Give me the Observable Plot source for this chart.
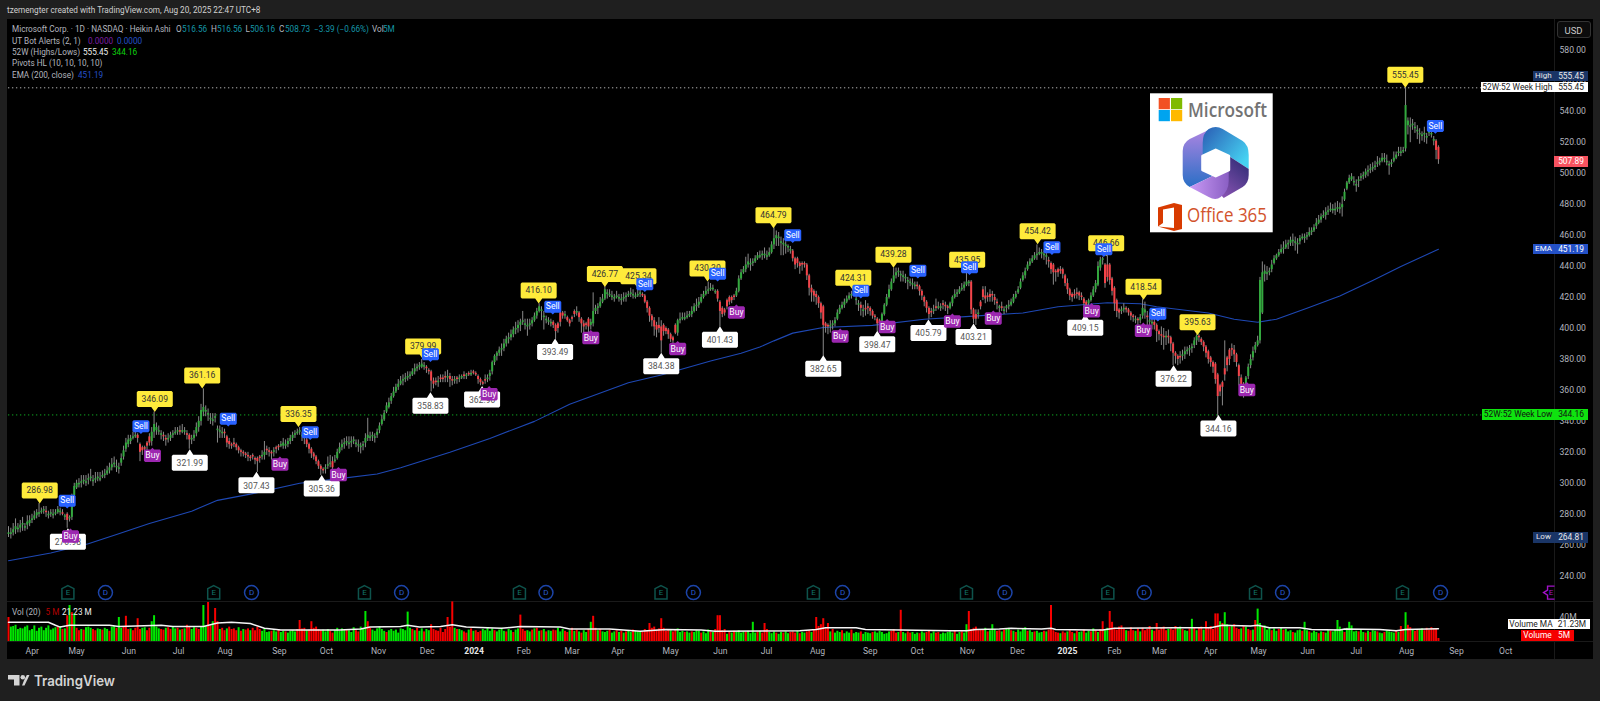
<!DOCTYPE html>
<html><head><meta charset="utf-8">
<script src="https://cdn.jsdelivr.net/npm/d3@7"></script>
<script src="https://cdn.jsdelivr.net/npm/@observablehq/plot@0.6"></script>
<style>
html,body{margin:0;padding:0;background:#1f1f1f;overflow:hidden}
#page{position:relative;width:1600px;height:701px;overflow:hidden;font-family:Roboto,sans-serif;color:#b2b5be;font-size:8.2px}
#panel{position:absolute;left:7px;top:19px;width:1586px;height:640px;background:#000}
#page>svg,#page>figure{position:absolute;left:0;top:0;margin:0}
.hl{position:absolute;background:#1a1a1a}
.lg{position:absolute;white-space:pre;line-height:11px;left:12px}
.lg span{position:absolute;top:0}
.tag{position:absolute;white-space:pre;text-align:center;line-height:11px;height:11px;font-size:8.4px}
</style></head><body>
<div id="page"><div id="panel"></div>
<div class="hl" style="left:7px;top:601px;width:1586px;height:1px"></div>
<div class="hl" style="left:7px;top:641px;width:1586px;height:1px"></div>
<div class="hl" style="left:1554px;top:19px;width:1px;height:640px"></div>
</div>
<script>
// ---- Candles: bar close, signed body (close-open), upper and lower wick lengths
const closes=[
268,268,270,272,271,273,274,272,275,276,
277,279,281,281,282,283,281,280,281,280,
281,283,282,280,279,276,278,292,298,300,
300,301,302,301,303,304,302,303,304,303,
305,306,308,310,312,313,311,310,316,321,
326,328,329,330,331,329,320,321,322,324,
326,333,338,336,334,332,330,328,329,331,
332,333,334,333,334,334,331,328,329,331,
336,340,347,349,347,345,342,341,343,335,
334,333,332,326,325,324,325,323,321,320,
319,318,317,316,317,315,314,316,318,320,
321,320,319,321,322,323,325,326,325,327,
329,331,332,333,334,331,329,325,322,319,
317,314,311,309,308,310,312,313,310,315,
320,323,325,326,327,326,327,328,326,325,
324,325,329,331,330,331,330,333,337,341,
345,350,352,356,359,362,364,366,367,368,
369,370,372,374,375,376,377,376,374,372,
366,364,365,366,367,367,368,369,367,366,
367,367,368,369,369,370,370,371,371,370,
367,365,364,366,368,371,378,382,384,386,
387,390,393,394,396,399,400,402,404,405,
403,402,403,405,408,411,414,412,408,406,
405,404,402,398,400,404,408,409,405,403,
406,409,411,407,403,401,402,401,404,411,
413,414,417,419,425,423,422,421,420,421,
420,419,420,421,422,423,422,421,422,423,
421,417,413,408,405,401,399,400,392,398,
398,396,393,392,397,405,406,407,407,408,
409,411,414,415,417,420,422,424,425,426,
426,424,419,411,409,410,414,417,418,420,
424,432,436,438,441,443,442,443,445,447,
447,448,448,447,449,454,458,460,459,456,
455,454,453,451,445,441,442,440,441,441,
434,426,423,421,420,416,410,402,401,401,
402,403,405,410,413,415,417,419,421,422,
423,419,416,413,412,412,413,411,408,407,
403,403,409,415,420,425,430,434,436,437,
435,434,433,431,430,429,428,427,424,421,
417,413,409,410,412,413,414,414,415,414,
413,416,420,422,423,425,426,428,430,430,
412,406,406,410,414,420,419,420,420,421,
418,416,414,413,412,414,415,417,420,422,
425,430,434,437,441,443,445,447,448,449,
449,448,447,443,438,436,436,436,437,435,
429,425,421,420,421,422,421,420,416,415,
418,421,425,429,440,444,445,429,433,431,
424,416,411,410,412,413,412,410,408,407,
406,405,407,413,412,407,405,404,402,398,
396,395,394,395,394,390,384,382,380,381,
383,385,386,387,388,392,395,394,391,388,
384,380,378,375,367,356,359,362,370,376,
380,386,383,378,369,363,361,368,375,380,
385,389,392,431,436,437,436,437,441,445,
447,449,451,452,454,455,457,457,456,455,
458,459,459,460,462,463,465,468,470,472,
473,475,476,477,477,477,478,478,480,488,
494,497,498,495,493,496,498,499,501,502,
503,504,505,507,508,510,510,508,506,507,
510,512,514,514,515,544,534,531,532,530,
528,526,525,526,524,527,526,522,515,509];
const bodies=[
1,1,2,2,1,2,1,1,2,2,
1,2,2,1,1,1,-1,1,1,1,
1,2,1,-1,1,-4,1,14,6,3,
1,1,1,1,1,1,1,1,1,1,
1,1,2,2,2,1,1,1,3,4,
4,3,2,1,1,-2,-5,-2,-1,-2,
-4,6,5,2,1,1,-1,-1,1,2,
1,1,1,-1,1,1,-1,-3,1,2,
4,4,7,3,1,1,1,1,1,1,
1,1,-1,-4,-2,-1,-1,-2,-2,-1,
-1,-1,-1,-1,-1,-1,-2,-1,1,2,
-1,-1,-1,1,-1,-1,1,2,1,2,
2,2,1,1,1,1,-1,-3,-3,-3,
-2,-3,-3,-2,-1,1,1,1,-4,1,
4,3,2,1,1,1,1,1,1,1,
1,1,3,2,1,1,1,2,3,3,
4,4,3,3,3,3,2,2,1,1,
1,1,2,2,1,1,2,1,-1,-1,
-6,-2,-1,1,-1,-1,-1,1,-2,-1,
1,-1,1,1,-1,1,-1,1,-1,-1,
-2,-2,-1,-1,1,2,6,4,2,2,
1,3,3,1,2,3,1,2,2,1,
1,1,1,2,3,3,3,1,1,1,
1,1,-2,-4,-3,-6,-2,1,-2,-2,
-1,-2,1,-3,-3,-2,-1,-5,2,8,
2,1,3,2,6,1,1,1,1,1,
1,1,1,1,1,1,1,1,1,1,
-1,-4,-4,-5,-3,-4,-3,-2,-9,-4,
-2,-3,-3,-2,-5,8,1,1,1,1,
1,2,3,1,2,3,2,2,1,1,
1,1,-5,-6,-4,-2,-4,-3,-2,-1,
3,8,4,2,3,2,1,1,2,2,
1,1,1,1,2,5,4,2,1,1,
1,1,1,1,-5,-4,-3,-2,-1,-1,
-7,-8,-3,-3,-2,-4,-6,-12,-2,-1,
1,1,2,4,3,2,2,2,2,1,
1,1,1,-2,1,-1,-1,-2,-3,-1,
-3,-2,5,6,5,5,5,4,2,1,
1,1,1,1,1,1,1,-1,-3,-3,
-3,-4,-4,-1,1,-1,1,1,-1,-1,
-1,3,4,2,1,2,1,2,2,1,
-18,-6,-3,1,-3,-5,-2,-1,-2,-1,
-2,-1,1,-1,1,1,1,2,3,2,
2,4,3,3,3,2,2,2,1,1,
1,1,1,-1,-4,-5,-1,-2,-1,-3,
-5,-4,-4,-2,-1,-1,-2,-1,-3,-2,
2,3,4,4,12,5,1,-12,-8,-10,
-8,-10,-7,-2,1,1,-1,-2,-2,-1,
1,-1,2,5,2,-1,1,1,-2,-4,
-2,-1,-1,1,-1,-4,-6,-2,-2,-1,
1,2,1,1,1,3,3,-1,-2,-3,
-4,-5,-3,-3,-10,-14,-4,-3,-4,-5,
-6,-1,-3,-5,-7,-5,-3,6,6,4,
4,3,3,39,26,2,1,1,3,3,
2,2,2,1,2,1,2,1,1,1,
2,1,1,1,2,1,2,2,2,2,
1,2,1,1,1,1,1,1,2,5,
4,3,2,1,1,1,1,1,2,1,
1,1,1,1,1,2,1,1,1,1,
2,2,1,1,1,28,3,1,1,1,
1,1,1,1,1,1,1,1,-6,-8];
const wickUp=[
4,3,4,5,3,3,4,2,4,3,
3,3,2,6,2,2,3,2,2,3,
2,2,2,2,1,1,1,1,2,2,
3,4,3,4,3,5,3,4,3,4,
3,3,3,3,4,4,4,3,3,3,
3,3,2,3,2,1,1,1,1,1,
2,3,8,3,3,2,2,2,3,2,
2,3,2,3,4,2,2,1,2,3,
3,3,4,12,3,3,3,4,2,2,
3,3,2,1,2,1,3,1,1,1,
1,1,2,1,1,1,1,1,3,7,
2,2,1,2,1,1,2,3,3,2,
2,2,2,2,2,2,1,1,1,1,
1,1,1,1,1,2,5,5,3,3,
2,3,3,3,3,4,3,2,2,3,
2,2,3,11,3,2,2,2,2,3,
2,2,3,2,3,2,3,3,3,3,
3,2,2,3,2,2,3,2,1,1,
1,2,2,3,2,2,3,4,2,2,
2,1,2,1,2,1,1,2,1,1,
1,1,1,3,2,2,1,1,1,2,
3,3,2,3,3,2,4,3,2,6,
3,4,3,2,2,2,2,2,3,2,
2,2,1,1,1,1,1,2,1,1,
1,1,3,1,1,2,1,1,2,12,
2,2,3,3,2,2,3,3,2,3,
2,3,3,2,2,3,3,2,3,2,
1,1,1,1,1,2,2,5,4,1,
1,1,1,1,1,1,4,3,3,3,
2,3,2,4,3,2,2,3,5,3,
2,1,1,1,1,1,1,1,1,1,
2,2,2,2,5,5,3,2,2,2,
3,2,4,3,3,2,7,3,3,3,
3,2,1,2,1,1,1,1,1,1,
1,1,2,1,2,1,1,1,1,1,
3,2,2,2,2,2,2,2,2,2,
1,2,2,2,3,5,2,1,1,1,
1,1,1,1,2,3,2,5,3,2,
2,3,2,2,2,3,2,2,1,1,
1,1,1,2,3,5,3,2,2,2,
1,1,1,3,2,2,3,2,6,1,
1,1,3,2,1,2,6,2,3,2,
2,2,1,3,2,1,3,2,2,2,
2,2,2,2,2,2,2,2,6,3,
2,2,3,2,1,1,1,1,2,1,
1,3,1,1,3,3,1,2,1,1,
1,2,2,2,3,2,1,1,6,1,
1,1,1,1,2,3,1,1,1,1,
2,1,2,6,5,3,5,3,2,1,
1,5,5,3,4,1,1,1,1,3,
3,3,2,2,2,2,1,1,1,1,
1,1,1,1,1,1,1,1,18,1,
1,3,3,1,1,2,1,1,2,3,
3,2,3,2,7,4,4,2,3,2,
1,2,3,4,3,2,2,4,3,3,
2,2,2,2,3,2,2,3,3,2,
3,3,3,4,3,4,4,3,5,2,
1,2,2,3,3,2,2,2,2,3,
3,3,3,4,2,3,3,4,2,2,
4,2,3,3,2,11.45,2,5,3,3,
3,3,2,4,2,4,3,2,1,1];
const wickDown=[
2,3,2,3,2,3,4,2,3,2,
2,1,2,2,1,2,3,2,2,2,
1,1,2,1,2,5,2,2,2,1,
2,3,2,2,3,2,3,2,2,1,
1,2,1,2,2,2,3,3,2,2,
2,2,2,1,1,3,6,3,3,3,
2,3,4,3,2,3,3,4,2,2,
2,1,2,2,1,2,3,6,3,2,
2,3,3,3,3,4,3,3,3,8,
4,3,3,3,3,2,2,2,2,3,
2,2,3,2,2,3,7,3,2,3,
3,3,4,3,3,2,1,2,2,2,
2,2,2,1,2,3,4,2,3,3,
2,2,2,4,2,3,2,2,1,1,
1,1,2,3,2,3,3,2,2,4,
4,3,3,2,2,3,3,2,2,1,
1,1,1,2,1,1,2,1,3,2,
2,2,1,2,2,2,1,2,3,2,
7,3,2,3,2,2,3,3,5,3,
2,3,2,1,2,2,1,1,1,1,
3,2,1,2,2,3,2,2,3,2,
4,2,2,3,2,2,3,3,4,2,
3,6,3,2,1,2,1,6,8,2,
2,2,2,5,3,3,2,2,1,2,
2,2,2,3,6,4,3,5,3,2,
2,4,1,1,1,3,1,2,2,1,
2,3,2,3,1,2,2,1,1,2,
1,1,3,4,4,6,5,3,8,3,
2,3,2,3,1,2,2,1,1,1,
1,2,1,3,2,1,1,1,2,1,
1,1,2,10,2,2,2,2,2,2,
1,1,1,1,2,2,4,2,1,1,
1,3,2,2,1,1,3,5,5,8,
7,5,3,2,2,3,3,5,4,2,
3,5,6,4,5,3,4,20,4,5,
4,3,2,1,1,1,2,1,1,2,
1,3,4,5,4,4,4,3,2,2,
5,3,1,1,1,1,1,1,2,3,
4,3,3,5,2,3,2,2,3,3,
3,3,3,3,2,2,1,2,3,3,
4,1,2,1,2,1,1,2,1,2,
3,3,4,3,2,2,3,3,3,4,
3,4,3,2,2,3,2,1,1,1,
1,1,1,2,1,1,1,1,3,1,
3,3,5,4,3,8,6,3,2,3,
2,3,3,3,2,3,3,2,7,3,
2,1,1,2,1,2,3,3,3,3,
3,5,4,4,2,2,2,2,3,3,
2,3,2,2,4,9,6,4,3,7,
4,6,8,5,4,5,8,5,4,4,
3,3,2,4,3,2,3,3,2,3,
3,3,3,4,3,13,3,12,4,4,
4,4,5,3,6,5,6,3,2,2,
2,2,1,2,1,5,4,2,2,1,
1,1,1,3,1,3,2,3,5,6,
2,1,3,2,1,2,1,2,1,2,
1,3,2,1,2,3,2,3,6,1,
1,1,1,2,4,4,2,2,2,3,
2,2,2,2,2,1,2,2,6,2,
1,1,2,2,1,2,6,10,3,3,
5,6,3,5,4,2,2,3,6,3];
// ---- Volume in millions; a negative sign marks a red bar
const volumes=[
-40,24,25,27,20,22,21,24,26,18,
20,26,17,22,24,18,22,26,19,21,
23,-24,25,-20,21,-43,60,-48,46,-22,
-18,20,-19,23,24,22,-20,-18,21,20,
-19,22,20,-17,24,25,-22,40,22,-24,
-42,-20,21,-18,-22,-38,-20,22,23,-18,
-22,33,43,24,21,-20,-19,22,-23,-20,
24,21,-22,19,-20,21,-27,-24,20,23,
-22,-20,24,60,25,-65,-26,33,-55,-33,
20,-22,-18,21,-24,-20,-21,-18,23,-17,
20,-19,-21,18,-22,-18,-24,-20,17,21,
15,16,-17,18,16,-19,15,17,-16,14,
17,18,16,-20,-35,-21,-22,18,-19,-33,
-22,-24,-20,-18,19,16,20,-17,-14,18,
22,17,21,19,-20,18,15,23,-18,-16,
24,20,50,-33,-22,19,17,21,24,20,
17,-15,18,20,17,19,14,21,20,18,
49,22,-20,18,-22,17,21,-16,20,18,
-28,-20,-18,-17,-22,-15,-20,-40,-24,-66,
22,-20,20,18,-16,-14,19,-21,17,-18,
-15,-17,20,18,23,17,21,-18,16,19,
22,17,-16,20,18,-15,19,21,-44,-20,
-17,18,16,-19,21,-22,17,-18,20,-16,
18,17,-19,-18,22,16,20,-17,-15,18,
-22,17,-19,16,-14,18,15,-20,32,-42,
-22,18,-20,16,15,17,-19,14,16,-18,
15,-17,14,-16,18,15,-19,17,16,15,
-16,-20,-18,-30,-22,-24,-19,-21,-38,-22,
-17,-19,18,-16,-20,21,15,17,-15,16,
14,-16,15,18,17,-14,16,13,19,-16,
15,-20,-43,-43,-18,-20,12,-16,14,-17,
15,18,14,16,-15,17,13,32,14,-16,
17,-14,-30,-20,15,13,16,-14,12,15,
-14,16,13,-15,-16,-14,17,-13,15,14,
-16,-18,15,-20,-40,-25,-28,-38,-22,-30,
16,-20,14,17,15,-18,13,16,14,-19,
13,15,14,-16,12,15,14,13,-15,16,
14,17,15,12,13,16,-17,-20,-14,15,
-52,15,13,-16,-14,15,12,14,-13,16,
14,-15,-17,13,16,-14,-15,12,14,13,
15,16,14,-17,12,15,-16,14,28,-50,
-20,-22,-24,-18,-20,-19,22,-16,18,28,
20,-17,-18,16,-19,21,22,-18,17,-15,
19,16,20,23,-17,18,15,-16,17,14,
15,-17,16,-19,-60,-18,-15,-14,13,-16,
-14,16,-18,-15,13,-17,15,16,-19,14,
17,-16,21,-18,15,-20,-33,18,22,-50,
-32,-22,-19,-24,-26,-20,18,-17,-23,-18,
17,-21,16,-22,-18,-20,-25,19,-17,-30,
-19,-22,-24,-18,20,-21,-19,-25,22,24,
-20,18,17,-21,37,-22,18,-23,-24,19,
-33,-22,-25,-20,-46,-46,33,-30,48,28,
-24,26,-28,-22,-20,21,-25,24,-20,-18,
19,-35,54,30,-24,26,19,22,-18,21,
17,-20,22,-19,20,16,18,-15,14,18,
19,-17,32,18,-16,14,17,15,-13,16,
-15,14,18,-17,16,19,35,24,20,-15,
22,32,26,16,17,-16,19,15,-14,17,
-15,18,17,-16,14,13,-15,18,16,15,
14,-17,15,-25,-20,48,-27,-23,19,-17,
-20,20,21,-18,-22,-19,-23,-21,-20,-5];
// ---- Lines read at sampled bars
const emaBars=[0,18,34,46,60,78,89,103,124,141,157,167,188,205,224,239,264,278,299,312,320,326,334,347,368,390,411,432,447,468,482,489,511,522,532,540,553,567,581,593,609];
const emaValues=[250,255,261,267,274,282,289,293,300,303,306,310,320,329,340,351,365,370,379,384,388,392,397,400.6,402,406,408,410,414,416.6,416,414,410,406,404,406,413,421,431,440,451.19];
const volMaBars=[0,17,20,22,26,43,47,65,70,83,89,95,103,109,116,141,150,154,167,170,175,184,189,195,210,218,235,239,256,269,280,295,301,337,344,348,361,365,380,401,408,412,422,427,440,444,446,461,466,471,497,512,517,529,532,537,550,555,567,569,584,591,595,609];
const volMaValues=[32,32,27,24,27,27,25,27,25,25,31,32,30,22,19,19,21,24,25,27,24,25,28,24,22,25,24,21,21,17,20,19,17,18,20,23,23,20,19,18,18,20,21,22,21,22,20,19,19,22,23,23,27,26,27,23,23,20,19,21,20,18,20,21.23];
// ---- Pivot and signal tags (bar, price, text)
const pivotHighBars=[13.3,62.3,82.5,123.5,176.6,225.8,254,268.3,297.7,325.8,359.8,376.9,408.3,438.3,467.5,483.4,506.4,594.9];
const pivotHighs=[286.98,346.09,361.16,336.35,379.99,416.10,426.77,425.34,430.30,464.79,424.31,439.28,435.95,454.42,446.66,418.54,395.63,555.45];
const pivotLowBars=[25.3,77.2,105.6,133.4,179.7,201.7,232.8,278,303,347,370,391.8,411,458.6,496.2,515.3];
const pivotLows=[270.98,321.99,307.43,305.36,358.83,362.90,393.49,384.38,401.43,382.65,398.47,405.79,403.21,409.15,376.22,344.16];
const sellBars=[25,56.4,93.6,128.5,179.7,231.8,271,302,334,363,387.3,409.3,444.4,466.5,489.5,607.7];
const sellPrices=[283.7,331.8,336.7,328,378.3,409,423.5,430.3,455.2,419.3,432.3,434.5,447.4,446.1,404.5,525.7];
const buyBars=[26.4,61.3,115.6,140.5,204.7,248,285,310,354.2,374.2,402,419.4,461.3,483.3,527.4];
const buyPrices=[270.8,323,317.3,310.5,362.8,399,391.9,415.5,400,406.1,409.7,411.6,416.4,403.8,365.4];
const earningsBars=[25.3,87.4,151.6,217.6,277.9,342.8,408,468.2,531.1,593.7];
const dividendBars=[41.3,103.5,167.4,228.9,291.7,355.2,424.4,483.7,542.6,609.9];
const monthBars=[10.1,29,51.3,72.4,92.2,115.4,135.4,157.6,178.3,219.5,240,259.5,282,303.2,322.8,344.6,367,387,408.4,429.7,471,490.2,512,532.4,553.3,574,595.4,616.7,637.6];
const monthNames=["Apr","May","Jun","Jul","Aug","Sep","Oct","Nov","Dec","Feb","Mar","Apr","May","Jun","Jul","Aug","Sep","Oct","Nov","Dec","Feb","Mar","Apr","May","Jun","Jul","Aug","Sep","Oct"];
const yearBars=[198.3,451];
const yearNames=["2024","2025"];
const priceTicks=d3.range(240,581,20);

const FONT='Roboto,sans-serif';
const barPx=2.348, firstPx=8, chartRight=1554;
const xDomain=[-firstPx/barPx,(chartRight-firstPx)/barPx];
const xOpt={domain:xDomain,range:[0,chartRight]};
const page=document.getElementById("page");

const bars=closes.map((c,i)=>{const o=c-bodies[i];return{i,o,c,h:Math.max(o,c)+wickUp[i],l:Math.min(o,c)-wickDown[i]}});
const ema=emaBars.map((b,i)=>({b,v:emaValues[i]}));
const volMa=volMaBars.map((b,i)=>({b,v:volMaValues[i]}));
const zip=(a,b)=>a.map((x,i)=>({x,y:b[i]}));
const fmt=d=>d.toFixed(2);
const highs=zip(pivotHighBars,pivotHighs), lows=zip(pivotLowBars,pivotLows);
const sells=zip(sellBars,sellPrices), buys=zip(buyBars,buyPrices);

// tag outline: tip at origin, box above (dir -1) or below (dir +1)
const tag=(w,h,gap,dir,tipW)=>({draw(c){
  const r=1.2, a=dir*gap, b=dir*(gap+h), L=-w/2, R=w/2;
  c.moveTo(0,0);c.lineTo(tipW,a);c.lineTo(R-r,a);c.lineTo(R,a+dir*r);c.lineTo(R,b-dir*r);c.lineTo(R-r,b);
  c.lineTo(L+r,b);c.lineTo(L,b-dir*r);c.lineTo(L,a+dir*r);c.lineTo(L+r,a);c.lineTo(-tipW,a);c.closePath();
}});
const hexE={draw(c){c.moveTo(0,-7);c.lineTo(6,-4);c.lineTo(6,6.5);c.lineTo(-6,6.5);c.lineTo(-6,-4);c.closePath();}};
const nextE={draw(c){c.moveTo(6,-6.5);c.lineTo(-1,-6.5);c.lineTo(-1,-2.5);c.lineTo(-5,0);c.lineTo(-1,2.5);c.lineTo(-1,6.5);c.lineTo(6,6.5);}};
const eventY=229.4;

const price=Plot.plot({
  width:1600,height:701,marginLeft:0,marginRight:46,marginTop:49.3,marginBottom:125.3,
  style:{background:"transparent",fontFamily:FONT},
  x:{...xOpt,axis:null},
  y:{domain:[240,580],label:null},
  marks:[
    Plot.axisY(priceTicks,{anchor:"right",tickSize:0,tickPadding:5,tickFormat:fmt,fill:"#b2b5be",fontSize:8.6,label:null}),
    Plot.ruleY([555.45],{x1:xDomain[0]+3.4,x2:627.5,stroke:"#b0b0b0",strokeDasharray:"1.3,2.7"}),
    Plot.ruleY([344.16],{x1:xDomain[0]+3.4,x2:627.5,stroke:"#10a822",strokeDasharray:"1.3,2.7"}),
    Plot.line(ema,{x:"b",y:"v",stroke:"#1e48b4",strokeWidth:1.1}),
    Plot.ruleX(bars,{x:"i",y1:"l",y2:"h",stroke:"#8a8a8a",strokeWidth:1}),
    Plot.ruleX(bars,{x:"i",y1:"o",y2:"c",stroke:d=>d.c>=d.o?"#33a83e":"#f44349",strokeWidth:2}),
    Plot.dot(highs,{x:"x",y:"y",symbol:tag(36,16,5,-1,3.5),fill:"#ffeb3b",stroke:"none"}),
    Plot.text(highs,{x:"x",y:"y",text:d=>fmt(d.y),dy:-13,fill:"#333",fontSize:8.6}),
    Plot.dot(lows,{x:"x",y:"y",symbol:tag(36,16,5.5,1,3.5),fill:"#fff",stroke:"none"}),
    Plot.text(lows,{x:"x",y:"y",text:d=>fmt(d.y),dy:14,fill:"#555",fontSize:8.6}),
    Plot.dot(sells,{x:"x",y:"y",symbol:tag(17,12,1.8,-1,1.8),fill:"#2962ff",stroke:"none"}),
    Plot.text(sells,{x:"x",y:"y",text:()=>"Sell",dy:-8,fill:"#fff",fontSize:8.6}),
    Plot.dot(buys,{x:"x",y:"y",symbol:tag(17,12.5,1.8,1,1.8),fill:"#9c27b0",stroke:"none"}),
    Plot.text(buys,{x:"x",y:"y",text:()=>"Buy",dy:8,fill:"#fff",fontSize:8.6}),
    Plot.dot(earningsBars,{x:d=>d,y:()=>eventY,symbol:hexE,fill:"none",stroke:"#0e534c",strokeWidth:1.5}),
    Plot.text(earningsBars,{x:d=>d,y:()=>eventY,text:()=>"E",fill:"#11756a",fontSize:8}),
    Plot.dot(dividendBars,{x:d=>d,y:()=>eventY,r:7,fill:"none",stroke:"#1c44a8",strokeWidth:1.5}),
    Plot.text(dividendBars,{x:d=>d,y:()=>eventY,text:()=>"D",fill:"#2a5bd0",fontSize:8}),
    Plot.dot([655.9],{x:d=>d,y:()=>eventY,symbol:nextE,fill:"none",stroke:"#a312c9",strokeWidth:1.4}),
    Plot.text([655.9],{x:d=>d,y:()=>eventY,text:()=>"E",dx:2.5,fill:"#a312c9",fontSize:8})
  ]
});
page.appendChild(price);

const volume=Plot.plot({
  width:1600,height:701,marginLeft:0,marginRight:46,marginTop:602,marginBottom:60,
  style:{background:"transparent",fontFamily:FONT},
  x:{...xOpt,label:null},
  y:{domain:[0,65],label:null},
  marks:[
    Plot.axisY([40],{anchor:"right",tickSize:0,tickPadding:5,tickFormat:d=>d+"M",fill:"#b2b5be",fontSize:8.6,label:null}),
    Plot.axisX(monthBars,{anchor:"bottom",tickSize:0,tickPadding:6,tickFormat:d=>monthNames[monthBars.indexOf(d)],fill:"#b2b5be",fontSize:8.6,label:null}),
    Plot.axisX(yearBars,{anchor:"bottom",tickSize:0,tickPadding:6,tickFormat:d=>yearNames[yearBars.indexOf(d)],fill:"#e6e6e6",fontWeight:"bold",fontSize:8.6,label:null}),
    Plot.ruleX(volumes,{x:(d,i)=>i,y1:0,y2:d=>Math.abs(d),stroke:d=>d<0?"#f80000":"#00e800",strokeWidth:2}),
    Plot.line(volMa,{x:"b",y:"v",stroke:"#f4f4f4",strokeWidth:1.5})
  ]
});
page.appendChild(volume);

// ---- Text and price tags around the chart
function box(left,top,width,height,bg,color,text,extra=""){
  const d=document.createElement("div");d.className="tag";
  d.style.cssText=`left:${left}px;top:${top}px;width:${width}px;height:${height}px;line-height:${height}px;background:${bg};color:${color};${extra}`;
  d.textContent=text;page.appendChild(d);
}
function line(top,html){const d=document.createElement("div");d.className="lg";d.style.top=top+"px";d.innerHTML=html;page.appendChild(d);}
const hdr=document.createElement("div");hdr.className="lg";hdr.style.cssText="left:7px;top:5px;color:#d0d0d0";hdr.textContent="tzemengter created with TradingView.com, Aug 20, 2025 22:47 UTC+8";page.appendChild(hdr);
const T='#1596a8';
const at=(x,c,t)=>`<span style="left:${x-12}px;color:${c}">${t}</span>`;
line(24,'Microsoft Corp. · 1D · NASDAQ · Heikin Ashi'+at(176,'#b2b5be','O')+at(182,T,'516.56')+at(211,'#b2b5be','H')+at(217,T,'516.56')+at(245.5,'#b2b5be','L')+at(250,T,'506.16')+at(279,'#b2b5be','C')+at(285,T,'508.73')+at(314,T,'−3.39 (−0.66%)')+at(372,'#b2b5be','Vol')+at(383,T,'5M'));
line(35.5,'UT Bot Alerts (2, 1)'+at(88,'#7b1fa2','0.0000')+at(117,'#2451c7','0.0000'));
line(47,'52W (Highs/Lows)'+at(83,'#f0f0f0','555.45')+at(112,'#0fd10f','344.16'));
line(58,'Pivots HL (10, 10, 10, 10)');
line(69.5,'EMA (200, close)'+at(78,'#2451c7','451.19'));
const vl=document.createElement("div");vl.className="lg";vl.style.cssText="top:607px";vl.innerHTML='Vol (20)'+at(45.5,'#b40000','5 M')+at(62,'#f0f0f0','21.23 M');page.appendChild(vl);

box(1556.5,21,34,17,"#0c0c0c","#c8c8c8","USD","border:1px solid #333;border-radius:3px;box-sizing:border-box;font-size:9.5px");
box(1532.7,70.7,21.3,10,"#1a3566","#e8e8e8","High","font-size:8px");
box(1554,70.7,34,10,"#1a3566","#e8e8e8","555.45");
box(1480.7,81.8,73.3,10.6,"#fff","#222","52W:52 Week High");
box(1554,81.8,34,10.6,"#fff","#222","555.45");
box(1554,156,34,10.7,"#f7525f","#fff","507.89");
box(1533,243.5,21,10.6,"#2451c7","#fff","EMA","font-size:8px");
box(1554,243.5,34,10.6,"#2451c7","#fff","451.19");
box(1482,409,72,10.6,"#0fe30f","#111","52W:52 Week Low");
box(1554,409,34,10.6,"#0fe30f","#111","344.16");
box(1533,532,21,10.6,"#1a3566","#e8e8e8","Low","font-size:8px");
box(1554,532,34,10.6,"#1a3566","#e8e8e8","264.81");
box(1508,618.7,46,10.6,"#fff","#222","Volume MA");
box(1554,618.7,36,10.6,"#fff","#222","21.23M");
box(1521,630,33,10.6,"#f60000","#fff","Volume");
box(1554,630,20,10.6,"#f60000","#fff","5M");

// Pasted product logo and the TradingView wordmark
const art=document.createElementNS("http://www.w3.org/2000/svg","svg");
art.setAttribute("width",1600);art.setAttribute("height",701);
art.innerHTML=`
<defs>
<linearGradient id="g1" x1="0" y1="0" x2="0" y2="1"><stop offset="0" stop-color="#b085e2"/><stop offset="1" stop-color="#2a6fc6"/></linearGradient>
<linearGradient id="g2" x1="0" y1="0" x2="1" y2="0.7"><stop offset="0" stop-color="#2a5cb4"/><stop offset="1" stop-color="#46d2f2"/></linearGradient>
<linearGradient id="g3" x1="0.9" y1="0" x2="0.2" y2="1"><stop offset="0" stop-color="#2b2a72"/><stop offset="1" stop-color="#8d55b5"/></linearGradient>
<linearGradient id="g4" x1="0" y1="0" x2="1" y2="0"><stop offset="0" stop-color="#c99af5"/><stop offset="1" stop-color="#8a5fc4"/></linearGradient>
</defs>
<rect x="1150" y="93.3" width="122.7" height="139" fill="#fff"/>
<rect x="1158.7" y="98" width="11.2" height="11.2" fill="#f25022"/><rect x="1171" y="98" width="11.2" height="11.2" fill="#7fba00"/>
<rect x="1158.7" y="110" width="11.2" height="11.2" fill="#00a4ef"/><rect x="1171" y="110" width="11.2" height="11.2" fill="#ffb900"/>
<text x="1188" y="117" font-family="'Open Sans',sans-serif" font-weight="600" font-size="20" fill="#737373" textLength="79" lengthAdjust="spacingAndGlyphs">Microsoft</text>
<g transform="translate(1215.7,163)" stroke-linejoin="round">
 <path d="M-13,-7 L-13,7 L-3,13 L-26,24 Q-33,20 -33,12 L-33,-12 Q-33,-20 -26,-24 L-3,-35 Z" fill="url(#g1)"/>
 <path d="M-7,-34 Q0,-38 7,-34 L27,-22 Q33,-18 33,-8 L33,6 L13,-7 L0,-13 L-13,-7 L-13,-20 Q-13,-30 -7,-34 Z" fill="url(#g2)"/>
 <path d="M13,-7 L33,6 L33,12 Q33,20 27,24 L8,35 L-2,24 L13,7 Z" fill="url(#g3)"/>
 <path d="M-26,24 L-3,13 L13,7 L13,18 Q13,28 5,34 Q0,38 -7,34 Z" fill="url(#g4)"/>
 <path d="M0,-13 L13,-7 L13,7 L0,13 L-13,7 L-13,-7 Z" fill="#fff" stroke="#fff" stroke-width="3"/>
</g>
<path d="M1158,207.5 L1174,203 L1182,205 L1182,229 L1174,231 L1158,226.5 L1174,228 L1174,207.5 L1163,209.5 L1163,223 L1158,226.5 Z" fill="#d83b01"/>
<text x="1187" y="222" font-family="'Open Sans',sans-serif" font-size="20" fill="#d2532c" textLength="80" lengthAdjust="spacingAndGlyphs">Office 365</text>
<path d="M8,675 H19.5 V685.5 H14 V679.5 H8 Z" fill="#d4d4d4"/><circle cx="22.8" cy="677.3" r="2.3" fill="#d4d4d4"/>
<path d="M24.5,685.5 L22,685.5 L24,680.5 L26.8,675 H29.5 Z" fill="#d4d4d4"/>
<text x="34" y="685.5" font-family="Inter,sans-serif" font-weight="600" font-size="14.5" fill="#d4d4d4" textLength="81" lengthAdjust="spacingAndGlyphs">TradingView</text>`;
page.appendChild(art);
</script></body></html>
